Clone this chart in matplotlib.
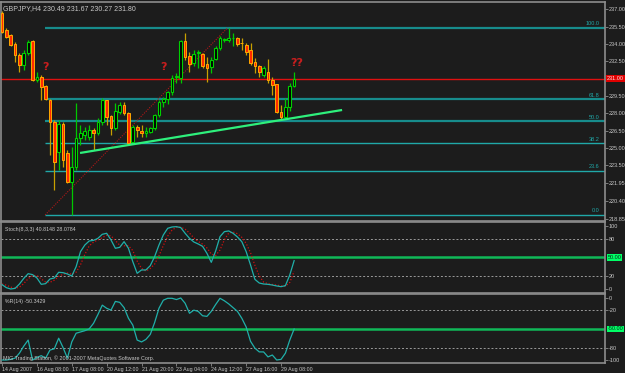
import matplotlib
matplotlib.use('Agg')
import matplotlib.pyplot as plt
import numpy as np

plt.rcParams['font.family'] = ['Liberation Sans', 'DejaVu Sans']

# ---------------- data ----------------
opens = [236.68, 235.21, 234.77, 234.00, 233.04, 232.18, 233.22, 234.26, 230.88, 231.14,
         230.36, 229.15, 227.24, 224.64, 227.07, 224.56, 222.05, 223.35, 225.86, 226.12,
         225.94, 226.55, 226.29, 227.24, 229.15, 227.76, 226.72, 228.11, 228.71, 228.02,
         225.51, 226.81, 226.46, 226.29, 226.38, 226.72, 227.85, 228.97, 229.23, 229.84,
         231.10, 231.05, 234.26, 232.96, 232.35, 233.22, 233.13, 232.26, 232.00, 232.70,
         233.65, 234.34, 234.34, 234.50, 234.52, 234.10, 233.91, 233.48, 232.44, 232.09,
         231.31, 231.57, 230.88, 230.53, 228.11, 227.68, 228.54, 230.36]
highs = [236.85, 235.38, 234.86, 234.17, 233.22, 233.48, 234.34, 234.34, 231.57, 231.31,
         230.44, 229.23, 227.42, 227.42, 227.24, 224.82, 225.08, 228.89, 226.98, 226.81,
         226.98, 226.72, 227.59, 229.32, 229.15, 227.85, 228.89, 228.97, 228.97, 228.11,
         226.98, 226.98, 226.98, 226.81, 226.81, 227.93, 229.15, 229.40, 229.95, 231.31,
         231.48, 234.34, 234.95, 233.30, 233.48, 233.48, 233.22, 232.87, 232.87, 233.82,
         234.70, 234.52, 235.38, 234.95, 234.60, 234.52, 234.08, 234.08, 232.78, 232.18,
         232.09, 232.70, 231.14, 230.53, 228.71, 229.32, 230.62, 231.57]
lows = [234.95, 234.52, 233.82, 232.44, 231.57, 231.74, 233.04, 230.79, 230.71, 229.15,
        229.15, 224.39, 221.35, 223.09, 223.35, 221.96, 219.19, 223.09, 225.25, 225.68,
        225.68, 224.82, 226.12, 226.98, 226.98, 226.12, 226.55, 227.93, 227.85, 225.25,
        225.42, 225.94, 225.94, 225.94, 226.29, 226.55, 227.68, 228.54, 228.80, 229.58,
        230.62, 230.62, 232.61, 231.57, 232.09, 231.92, 231.92, 230.71, 231.48, 232.61,
        233.48, 234.17, 234.17, 233.82, 233.82, 233.48, 233.04, 232.18, 231.48, 231.14,
        231.14, 230.62, 229.58, 228.02, 227.42, 227.59, 228.19, 230.27]
closes = [235.03, 234.60, 233.91, 233.04, 232.18, 233.22, 234.17, 230.88, 231.14, 230.27,
          229.23, 227.24, 223.78, 227.07, 223.95, 222.05, 223.35, 225.86, 226.29, 226.46,
          226.55, 226.29, 227.24, 229.15, 227.68, 226.72, 228.19, 228.71, 228.02, 225.42,
          226.81, 226.55, 226.29, 226.46, 226.72, 227.85, 228.97, 229.23, 229.84, 231.05,
          231.20, 234.26, 232.87, 232.26, 233.13, 233.25, 232.09, 231.92, 232.61, 233.65,
          234.52, 234.40, 234.52, 234.55, 234.00, 234.05, 233.30, 232.35, 232.09, 231.57,
          231.92, 230.88, 230.44, 228.11, 227.68, 228.54, 230.36, 230.97]

stoch_k = [6.9, 2.1, 0.0, 1.0, 7.9, 16.9, 24.3, 22.8, 17.5, 7.4,
           8.5, 15.9, 17.5, 26.5, 25.9, 23.8, 20.6, 35.4, 59.3, 69.8,
           76.2, 77.2, 80.4, 86.8, 88.4, 77.8, 64.6, 66.1, 75.1, 64.6,
           43.4, 24.9, 30.2, 30.2, 37.0, 51.3, 69.8, 85.7, 96.3, 98.4,
           98.9, 97.4, 88.4, 80.4, 74.6, 71.4, 67.7, 56.6, 42.3, 60.3,
           83.1, 91.0, 92.1, 88.4, 82.5, 75.1, 59.3, 38.1, 15.3, 9.5,
           7.9, 7.4, 6.3, 4.8, 3.7, 5.3, 22.2, 45.0]
stoch_d = [8.0, 6.0, 3.0, 1.0, 3.0, 8.6, 16.4, 21.3, 21.5, 15.9,
           11.1, 10.6, 14.0, 20.0, 23.3, 25.4, 23.4, 26.6, 38.4, 54.8,
           68.4, 74.4, 77.9, 81.5, 85.2, 84.3, 76.9, 69.5, 68.6, 68.6,
           61.0, 44.3, 32.8, 28.4, 32.5, 39.5, 52.7, 68.9, 83.9, 93.5,
           97.9, 98.2, 94.9, 88.7, 81.1, 75.5, 71.2, 65.2, 55.5, 53.1,
           61.9, 78.1, 88.7, 90.5, 87.7, 82.0, 72.3, 57.5, 37.6, 21.0,
           10.9, 8.3, 7.2, 6.2, 4.9, 4.6, 10.4, 28.1]
wpr = [-100, -100, -99, -97, -89, -77.6, -68, -100, -96, -93,
       -97, -84, -82, -65, -80, -97, -71, -57, -55, -53,
       -50, -41, -27, -12, -17, -20, -6, -7.5, -16, -33,
       -44, -68, -71, -67, -59, -40, -17, -4, -1, -1,
       -3, -0.5, -9, -25, -20, -22, -29, -30, -22, -11,
       -1, -5, -10, -16, -22, -33, -47, -70, -81, -87,
       -87, -95, -92, -100, -99, -89, -68, -50.3]

fib_levels = [0.0, 23.6, 38.2, 50.0, 61.8, 100.0]
fib_low, fib_high = 219.20, 235.42
fib_x = [9.9, 51.8]          # bar index of the fib anchors
trend_x = [17.9, 78.0]       # green trendline anchors (bar index)
trend_y = [224.56, 228.28]
current_price = 231.00

price_ticks = [237.00, 235.50, 234.00, 232.50, 229.50, 228.00, 226.50,
               225.00, 223.50, 221.95, 220.40, 218.85]
date_pos = [0, 8, 16, 24, 32, 40, 48, 56, 64]
date_labels = ['14 Aug 2007', '16 Aug 08:00', '17 Aug 08:00', '20 Aug 12:00',
               '21 Aug 20:00', '23 Aug 04:00', '24 Aug 12:00', '27 Aug 16:00',
               '29 Aug 08:00']
qmarks = [(9.9, 232.0, '?'), (37.0, 232.0, '?'), (67.7, 232.35, '??')]

# ---------------- style ----------------
BG = '#1c1c1c'
GRAY = '#8c8c8c'
TXT = '#c8c8c8'
TEAL = '#20a8a8'
W, H = 625, 373
AX_FS = 4.0

fig = plt.figure(figsize=(6.25, 3.73), dpi=100, facecolor=BG)


def px_axes(left, top, right, bottom):
    a = fig.add_axes([left / W, 1 - bottom / H, (right - left) / W, (bottom - top) / H])
    a.set_facecolor(BG)
    for s in a.spines.values():
        s.set_color(GRAY)
        s.set_linewidth(1.2)
    a.yaxis.tick_right()
    a.tick_params(axis='y', colors=GRAY, labelcolor=TXT, labelsize=AX_FS,
                  length=2, width=0.6, pad=0.6)
    a.tick_params(axis='x', bottom=False, labelbottom=False)
    return a


ax = px_axes(1, 2, 605, 221)
ax_s = px_axes(1, 222, 605, 293)
ax_w = px_axes(1, 294, 605, 363)

XL = (-0.23, 138.3)
for a in (ax, ax_s, ax_w):
    a.set_xlim(*XL)

ax.set_ylim(218.67, 237.63)
ax_s.set_ylim(-6.35, 106.3)
ax_w.set_ylim(-104.8, 5.9)

# ---------------- candles ----------------
idx = np.arange(len(opens))
o = np.array(opens); h = np.array(highs); l = np.array(lows); c = np.array(closes)
bull = c >= o
for i in idx:
    if bull[i]:
        ax.vlines(i, l[i], h[i], color='#00c800', lw=0.9, zorder=3)
    else:
        ax.vlines(i, l[i], h[i], color='#c8a000', lw=0.9, zorder=3)
bodies_b = np.maximum(np.abs(c - o), 0.05)
ax.bar(idx[bull], bodies_b[bull], bottom=np.minimum(o, c)[bull], width=0.62,
       color='#000000', edgecolor='#00d000', linewidth=0.8, zorder=4)
ax.bar(idx[~bull], bodies_b[~bull], bottom=np.minimum(o, c)[~bull], width=0.62,
       color='#ff2a00', edgecolor='#ffa800', linewidth=0.7, zorder=4)

# ---------------- fibonacci ----------------
for lv in fib_levels:
    p = fib_low + (fib_high - fib_low) * lv / 100.0
    thick = lv in (100.0, 61.8, 50.0)
    ax.hlines(p, fib_x[0], XL[1], color='#178c8c' if thick else TEAL,
              lw=1.6 if thick else 1.0, zorder=2)
    ax.text(137.0, p + 0.12, f'{lv:.1f}', color=TEAL, fontsize=4.0,
            ha='right', va='bottom', zorder=5)
ax.plot(fib_x, [fib_low, fib_high], color='#b01818', lw=0.8, ls=(0, (1, 1.2)), zorder=2)

# current price line
ax.axhline(current_price, color='#e01010', lw=1.0, zorder=2)
ax.text(1.003, current_price, f'{current_price:.2f}', transform=ax.get_yaxis_transform(),
        color='#ffe0e0', fontsize=AX_FS, ha='left', va='center', clip_on=False,
        bbox=dict(boxstyle='square,pad=0.15', fc='#e00000', ec='none'), zorder=6)

# green trendline
ax.plot(trend_x, trend_y, color='#2ef07c', lw=1.6, zorder=5, solid_capstyle='butt')

# question marks
for qx, qy, qt in qmarks:
    ax.text(qx, qy, qt, color='#c81e1e', fontsize=8, fontweight='bold',
            ha='center', va='center', zorder=6, family='DejaVu Sans')

ax.set_yticks(price_ticks)
ax.set_yticklabels([f'{t:.2f}' for t in price_ticks])

ax.text(0.004, 0.985, 'GBPJPY,H4 230.49 231.67 230.27 231.80', transform=ax.transAxes,
        color=TXT, fontsize=5.0, ha='left', va='top')

# ---------------- stochastic ----------------
for lv in (80, 20):
    ax_s.axhline(lv, color='#9a9a9a', lw=0.7, ls=(0, (2, 2)))
ax_s.axhline(50, color='#10b858', lw=1.8)
ax_s.plot(idx, stoch_k, color='#20b0aa', lw=0.9, zorder=4)
ax_s.plot(idx, stoch_d, color='#d01010', lw=0.9, ls=(0, (1, 1.5)), zorder=3)
ax_s.set_yticks([100, 80, 20, 0])
ax_s.set_yticklabels(['100', '80', '20', '0'])
ax_s.text(1.004, 50, '50.00', transform=ax_s.get_yaxis_transform(), color='#003318',
          fontsize=AX_FS, ha='left', va='center', clip_on=False,
          bbox=dict(boxstyle='square,pad=0.15', fc='#00ff66', ec='none'))
ax_s.text(0.006, 0.93, 'Stoch(8,3,3) 40.8148 28.0784', transform=ax_s.transAxes,
          color=TXT, fontsize=3.8, ha='left', va='top')

# ---------------- williams %R ----------------
for lv in (-20, -80):
    ax_w.axhline(lv, color='#9a9a9a', lw=0.7, ls=(0, (2, 2)))
ax_w.axhline(-50, color='#10b858', lw=1.8)
ax_w.plot(idx, wpr, color='#20b0aa', lw=0.9, zorder=4)
ax_w.set_yticks([0, -20, -80, -100])
ax_w.set_yticklabels(['0', '-20', '-80', '-100'])
ax_w.text(1.004, -50, '-50.00', transform=ax_w.get_yaxis_transform(), color='#003318',
          fontsize=AX_FS, ha='left', va='center', clip_on=False,
          bbox=dict(boxstyle='square,pad=0.15', fc='#00ff66', ec='none'))
ax_w.text(0.006, 0.93, '%R(14) -50.3429', transform=ax_w.transAxes,
          color=TXT, fontsize=3.8, ha='left', va='top')
ax_w.text(0.004, 0.03, 'MIG Trading Station, \u00a9 2001-2007 MetaQuotes Software Corp.',
          transform=ax_w.transAxes, color=TXT, fontsize=3.9, ha='left', va='bottom', zorder=6)

ax_w.tick_params(axis='x', bottom=True, labelbottom=True, colors=GRAY, labelcolor=TXT,
                 labelsize=3.8, length=2, width=0.6, pad=1)
ax_w.set_xticks(date_pos)
ax_w.set_xticklabels(date_labels)
for lbl in ax_w.get_xticklabels():
    lbl.set_ha('left')

fig.savefig('out.png', dpi=100, facecolor=BG)
